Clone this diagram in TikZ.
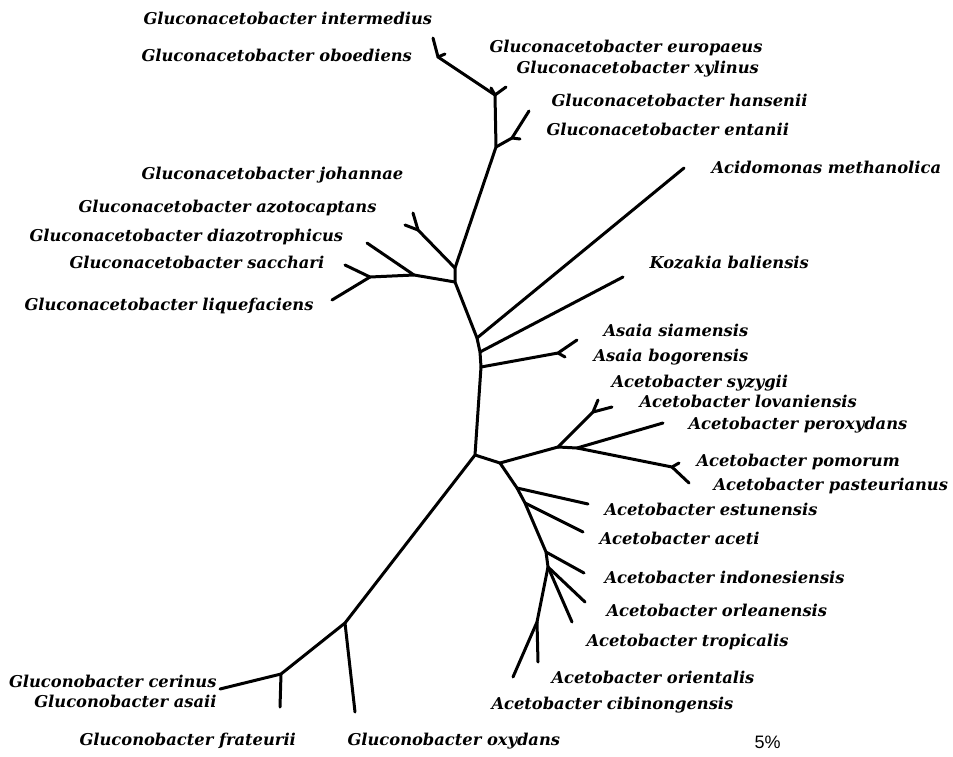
\documentclass[tikz,border=0pt]{standalone}
\usepackage{fontspec}
\setmainfont{DejaVu Serif}
\newfontfamily\pctfont{Liberation Sans}
\usetikzlibrary{positioning}

\begin{document}
\begin{tikzpicture}[x=1pt, y=-1pt, line width=3pt, line cap=round,
    taxon/.style={anchor=base west, inner sep=0pt,
        font=\fontsize{16.3}{19}\selectfont\bfseries\itshape}]
    \useasboundingbox (0,0) rectangle (953,756);

    % 1. Nodes of the tree
    \coordinate (A) at (438,57);   \coordinate (a1) at (433,38);  \coordinate (a2) at (445,54);
    \coordinate (B) at (495,95);   \coordinate (b1) at (491,88);  \coordinate (b2) at (506,87);
    \coordinate (C) at (496,147);
    \coordinate (D) at (512,138);  \coordinate (d1) at (529,111); \coordinate (d2) at (520,139);
    \coordinate (E) at (455,268);
    \coordinate (G) at (418,230);  \coordinate (g1) at (413,213); \coordinate (g2) at (405,225);
    \coordinate (F) at (455,282);
    \coordinate (H) at (414,275);  \coordinate (h1) at (367,243);
    \coordinate (I) at (370,277);  \coordinate (i1) at (345,265); \coordinate (i2) at (332,300);
    \coordinate (J) at (477,338);  \coordinate (j1) at (684,168);
    \coordinate (K) at (480,352);  \coordinate (k1) at (623,277);
    \coordinate (L) at (481,367);
    \coordinate (M) at (558,353);  \coordinate (m1) at (577,340); \coordinate (m2) at (565,357);
    \coordinate (N) at (475,455);
    \coordinate (O) at (500,463);
    \coordinate (P) at (558,447);
    \coordinate (Q) at (593,412);  \coordinate (q1) at (598,400); \coordinate (q2) at (612,407);
    \coordinate (P2) at (577,448); \coordinate (p1) at (663,423);
    \coordinate (R) at (672,467);  \coordinate (r1) at (679,463); \coordinate (r2) at (689,483);
    \coordinate (S) at (517,488);  \coordinate (s1) at (588,504);
    \coordinate (T) at (525,503);  \coordinate (t1) at (583,532);
    \coordinate (U) at (546,552);  \coordinate (u1) at (584,573);
    \coordinate (V) at (548,567);  \coordinate (v1) at (585,602); \coordinate (v2) at (572,622);
    \coordinate (W) at (537,622);  \coordinate (w1) at (513,677); \coordinate (w2) at (538,662);
    \coordinate (X) at (345,623);  \coordinate (x1) at (355,712);
    \coordinate (Y) at (281,674);  \coordinate (y1) at (280,707); \coordinate (y2) at (220,689);

    % 2. Branches
    \draw (a1) -- (A) -- (B) -- (C) -- (E) -- (F) -- (J) -- (K) -- (L) -- (N) -- (X) -- (Y) -- (y2);
    \draw (A) -- (a2);
    \draw (b1) -- (B) -- (b2);
    \draw (C) -- (D) -- (d1);  \draw (D) -- (d2);
    \draw (E) -- (G) -- (g1);  \draw (G) -- (g2);
    \draw (F) -- (H) -- (I) -- (i1);  \draw (I) -- (i2);  \draw (H) -- (h1);
    \draw (J) -- (j1);
    \draw (K) -- (k1);
    \draw (L) -- (M) -- (m1);  \draw (M) -- (m2);
    \draw (N) -- (O) -- (P) -- (Q) -- (q1);  \draw (Q) -- (q2);
    \draw (P) -- (P2) -- (p1);  \draw (P2) -- (R) -- (r1);  \draw (R) -- (r2);
    \draw (O) -- (S) -- (T) -- (U) -- (V) -- (W) -- (w1);
    \draw (S) -- (s1);  \draw (T) -- (t1);  \draw (U) -- (u1);
    \draw (V) -- (v1);  \draw (V) -- (v2);  \draw (W) -- (w2);
    \draw (X) -- (x1);  \draw (Y) -- (y1);

    % 3. Names of the species
    \node[taxon] (intermedius) at (142,24) {Gluconacetobacter intermedius};
    \node[taxon] (oboediens) at (140,61) {Gluconacetobacter oboediens};
    \node[taxon] (europaeus) at (488,52) {Gluconacetobacter europaeus};
    \node[taxon] (xylinus) at (515,73) {Gluconacetobacter xylinus};
    \node[taxon] (hansenii) at (550,106) {Gluconacetobacter hansenii};
    \node[taxon] (entanii) at (545,135) {Gluconacetobacter entanii};
    \node[taxon] (johannae) at (140,179) {Gluconacetobacter johannae};
    \node[taxon] (azotocaptans) at (77,212) {Gluconacetobacter azotocaptans};
    \node[taxon] (diazotrophicus) at (28,241) {Gluconacetobacter diazotrophicus};
    \node[taxon] (sacchari) at (68,268) {Gluconacetobacter sacchari};
    \node[taxon] (liquefaciens) at (23,310) {Gluconacetobacter liquefaciens};
    \node[taxon] (methanolica) at (710,173) {Acidomonas methanolica};
    \node[taxon] (baliensis) at (648,268) {Kozakia baliensis};
    \node[taxon] (siamensis) at (602,336) {Asaia siamensis};
    \node[taxon] (bogorensis) at (592,361) {Asaia bogorensis};
    \node[taxon] (syzygii) at (610,387) {Acetobacter syzygii};
    \node[taxon] (lovaniensis) at (638,407) {Acetobacter lovaniensis};
    \node[taxon] (peroxydans) at (687,429) {Acetobacter peroxydans};
    \node[taxon] (pomorum) at (695,466) {Acetobacter pomorum};
    \node[taxon] (pasteurianus) at (712,490) {Acetobacter pasteurianus};
    \node[taxon] (estunensis) at (603,515) {Acetobacter estunensis};
    \node[taxon] (aceti) at (598,544) {Acetobacter aceti};
    \node[taxon] (indonesiensis) at (603,583) {Acetobacter indonesiensis};
    \node[taxon] (orleanensis) at (605,616) {Acetobacter orleanensis};
    \node[taxon] (tropicalis) at (585,646) {Acetobacter tropicalis};
    \node[taxon] (orientalis) at (550,683) {Acetobacter orientalis};
    \node[taxon] (cibinongensis) at (490,709) {Acetobacter cibinongensis};
    \node[taxon, anchor=base east] (cerinus) at (218,687) {Gluconobacter cerinus};
    \node[taxon, anchor=base east] (asaii) at (218,707) {Gluconobacter asaii};
    \node[taxon] (frateurii) at (78,745) {Gluconobacter frateurii};
    \node[taxon] (oxydans) at (346,745) {Gluconobacter oxydans};

    % 4. Scale
    \node[anchor=base west, inner sep=0pt, font=\pctfont\fontsize{18}{21}\selectfont] (scale) at (753,748) {5\%};
\end{tikzpicture}
\end{document}
